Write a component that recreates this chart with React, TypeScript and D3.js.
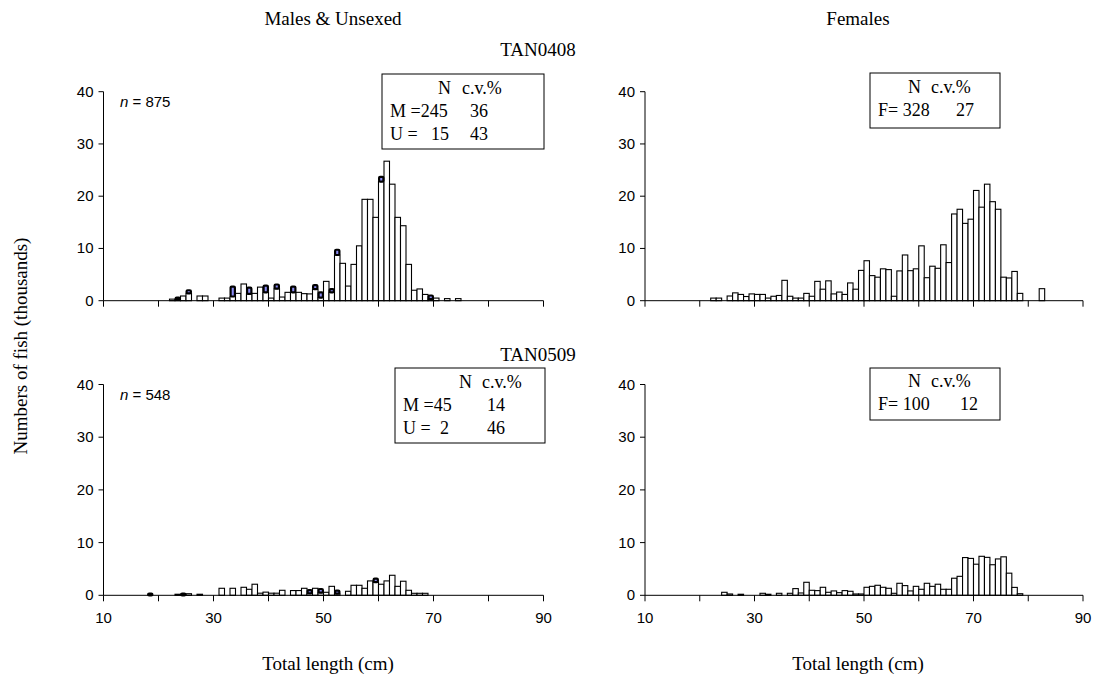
import React from "react";
import * as d3 from "d3";

// ---- Data (numbers of fish, thousands) by 1-cm length class ----
const xTicks = [10, 20, 30, 40, 50, 60, 70, 80, 90];
const xTickLabels = [10, 30, 50, 70, 90];
const yTicks = [0, 10, 20, 30, 40];

// TAN0408 males (start at 22 cm)
const m0408Start = 22;
const m0408 = [0.3, 0.15, 0.9, 1.4, 0, 0.9, 0.9, 0, 0, 0.5, 0.5, 0.8, 1.4, 3.2, 1.3, 1.4, 2.6, 1.6, 0.5, 2.3, 0.7, 1.6, 1.6, 1.6, 1.35, 1.3, 2.2, 0.6, 3.7, 1.6, 8.75, 7.15, 2.8, 6.95, 10.5, 19.4, 19.4, 15.95, 22.8, 26.7, 22.3, 15.95, 14.35, 6.95, 2.0, 2.25, 1.2, 0.3, 0.5, 0, 0.4, 0, 0.4];
// TAN0408 unsexed (length, value)
const u0408Len = [23, 25, 33, 36, 39, 41, 44, 48, 49, 51, 52, 60, 69];
const u0408 = [0.45, 0.6, 1.9, 1.2, 1.3, 0.8, 1.1, 0.8, 1.0, 0.6, 1.0, 0.9, 0.7];
// TAN0408 females (start at 22 cm)
const f0408Start = 22;
const f0408 = [0.5, 0.5, 0, 0.9, 1.5, 1.2, 0.8, 1.3, 1.2, 1.2, 0.5, 0.85, 1.0, 3.9, 0.85, 0.5, 0.5, 1.4, 0.85, 3.7, 2.2, 3.8, 1.3, 1.65, 1.2, 3.4, 2.2, 5.8, 7.65, 4.8, 4.5, 6.1, 5.95, 0.85, 5.7, 8.75, 5.75, 6.1, 10.5, 4.4, 6.6, 6.2, 10.7, 7.3, 16.6, 17.5, 14.8, 15.6, 21.1, 17.9, 22.3, 18.95, 17.5, 4.5, 4.35, 5.6, 1.4, 0, 0, 0, 2.3];

// TAN0509 males (start at 18 cm)
const m0509Start = 18;
const m0509 = [0, 0, 0, 0, 0, 0.2, 0, 0.3, 0, 0.2, 0, 0, 0, 1.33, 0, 1.33, 0, 1.52, 1.14, 2.1, 0.4, 0.6, 0.4, 0.4, 0.95, 0, 0.9, 0.9, 1.33, 0.38, 1.33, 0.5, 0.57, 1.7, 0.3, 0, 0.76, 1.9, 1.9, 1.33, 2.73, 2.5, 2.1, 2.73, 3.8, 1.7, 2.67, 0.95, 0.38, 0.38, 0.38];
// TAN0509 unsexed
const u0509Len = [18, 24, 47, 49, 52, 59];
const u0509 = [0.3, 0.3, 0.6, 0.7, 0.6, 0.65];
// TAN0509 females (start at 24 cm)
const f0509Start = 24;
const f0509 = [0.57, 0.25, 0, 0.2, 0, 0, 0, 0.38, 0.2, 0, 0.38, 0, 0.38, 1.27, 0.44, 2.47, 0.95, 0.89, 1.52, 0.57, 0.83, 0.5, 0.89, 0.76, 0.25, 0.25, 1.52, 1.7, 1.9, 1.52, 1.33, 0.38, 2.28, 1.84, 0.83, 1.7, 1.14, 2.28, 1.7, 2.1, 1.14, 1.14, 3.24, 3.6, 7.16, 7.0, 5.9, 7.4, 7.2, 5.8, 6.9, 7.3, 4.2, 1.5, 0.3];

const serif = "'Liberation Serif', 'Times New Roman', serif";
const sans = "'Liberation Sans', Arial, sans-serif";

type Bar = { len: number; base: number; val: number };

function toBars(start: number, vals: number[]): Bar[] {
  return vals.map((v, i) => ({ len: start + i, base: 0, val: v })).filter(b => b.val > 0);
}

function Panel(props: {
  x0: number; x1: number; yBase: number; yTop: number;
  male: Bar[]; unsexed?: Bar[]; showXLabels: boolean;
}) {
  const { x0, x1, yBase, yTop, male, unsexed, showXLabels } = props;
  const x = d3.scaleLinear().domain([10, 90]).range([x0, x1]);
  const y = d3.scaleLinear().domain([0, 40]).range([yBase, yTop]);
  return (
    <g>
      {male.map((b, i) => (
        <rect key={"m" + i} x={x(b.len)} y={y(b.val)} width={x(b.len + 1) - x(b.len)}
          height={y(0) - y(b.val)} fill="#fff" stroke="#000" strokeWidth={1.1} />
      ))}
      {(unsexed || []).map((b, i) => (
        <rect key={"u" + i} x={x(b.len) + 0.6} y={y(b.base + b.val)} width={x(b.len + 1) - x(b.len) - 1.2}
          height={y(b.base) - y(b.base + b.val)} fill="#8a8af2" stroke="#000" strokeWidth={2.2} rx={1} />
      ))}
      <line x1={x0} x2={x0} y1={yBase} y2={yTop} stroke="#000" strokeWidth={1} />
      <line x1={x0} x2={x1} y1={yBase} y2={yBase} stroke="#000" strokeWidth={1} />
      {yTicks.map(t => (
        <g key={"yt" + t}>
          <line x1={x0 - 5} x2={x0} y1={y(t)} y2={y(t)} stroke="#000" />
          <text x={x0 - 10} y={y(t) + 5} textAnchor="end" fontFamily={sans} fontSize={15}>{t}</text>
        </g>
      ))}
      {xTicks.map(t => (
        <line key={"xt" + t} x1={x(t)} x2={x(t)} y1={yBase} y2={yBase + 6} stroke="#000" />
      ))}
      {showXLabels && xTickLabels.map(t => (
        <text key={"xl" + t} x={x(t)} y={yBase + 28} textAnchor="middle" fontFamily={sans} fontSize={15}>{t}</text>
      ))}
    </g>
  );
}

function stackU(mStart: number, mVals: number[], uLen: number[], uVals: number[]): Bar[] {
  return uLen.map((l, i) => {
    const idx = l - mStart;
    const base = idx >= 0 && idx < mVals.length ? mVals[idx] : 0;
    return { len: l, base, val: uVals[i] };
  });
}

export default function App() {
  const LX0 = 103.5, LX1 = 543.5, RX0 = 645, RX1 = 1083;
  const TB = 300.7, TT = 91.7, BB = 595.3, BT = 384.5;
  return (
    <svg width={1098} height={678} style={{ position: "absolute", left: 0, top: 0, background: "#fff" }}>
      <rect x={0} y={0} width={1098} height={678} fill="#fff" />
      <g fontFamily={serif} fontSize={19}>
        <text x={333} y={25} textAnchor="middle">Males &amp; Unsexed</text>
        <text x={858} y={25} textAnchor="middle">Females</text>
        <text x={538} y={56} textAnchor="middle">TAN0408</text>
        <text x={538} y={361} textAnchor="middle">TAN0509</text>
        <text transform="translate(27,346) rotate(-90)" textAnchor="middle">Numbers of fish (thousands)</text>
        <text x={328} y={670} textAnchor="middle">Total length (cm)</text>
        <text x={858} y={670} textAnchor="middle">Total length (cm)</text>
      </g>

      <Panel x0={LX0} x1={LX1} yBase={TB} yTop={TT} male={toBars(m0408Start, m0408)}
        unsexed={stackU(m0408Start, m0408, u0408Len, u0408)} showXLabels={false} />
      <Panel x0={RX0} x1={RX1} yBase={TB} yTop={TT} male={toBars(f0408Start, f0408)} showXLabels={false} />
      <Panel x0={LX0} x1={LX1} yBase={BB} yTop={BT} male={toBars(m0509Start, m0509)}
        unsexed={stackU(m0509Start, m0509, u0509Len, u0509)} showXLabels={true} />
      <Panel x0={RX0} x1={RX1} yBase={BB} yTop={BT} male={toBars(f0509Start, f0509)} showXLabels={true} />

      <text x={120} y={107} fontFamily={sans} fontSize={15}><tspan fontStyle="italic">n</tspan> = 875</text>
      <text x={120} y={400} fontFamily={sans} fontSize={15}><tspan fontStyle="italic">n</tspan> = 548</text>

      {/* Legend boxes */}
      <g fontFamily={serif} fontSize={18}>
        <rect x={382} y={74} width={162} height={75} fill="#fff" stroke="#000" />
        <text x={451} y={94} textAnchor="end">N</text>
        <text x={462} y={94}>c.v.%</text>
        <text x={390} y={117}>M =245</text>
        <text x={470} y={117}>36</text>
        <text x={390} y={140}>U =</text>
        <text x={431} y={140}>15</text>
        <text x={470} y={140}>43</text>

        <rect x={870} y={73} width={130} height={55} fill="#fff" stroke="#000" />
        <text x={921} y={93} textAnchor="end">N</text>
        <text x={931} y={93}>c.v.%</text>
        <text x={878} y={116}>F= 328</text>
        <text x={956} y={116}>27</text>

        <rect x={395} y={368} width={150} height={75} fill="#fff" stroke="#000" />
        <text x={472} y={388} textAnchor="end">N</text>
        <text x={482} y={388}>c.v.%</text>
        <text x={403} y={411}>M =45</text>
        <text x={487} y={411}>14</text>
        <text x={403} y={434}>U =</text>
        <text x={440} y={434}>2</text>
        <text x={487} y={434}>46</text>

        <rect x={870} y={368} width={130} height={52} fill="#fff" stroke="#000" />
        <text x={921} y={387} textAnchor="end">N</text>
        <text x={931} y={387}>c.v.%</text>
        <text x={878} y={410}>F= 100</text>
        <text x={960} y={410}>12</text>
      </g>
    </svg>
  );
}
